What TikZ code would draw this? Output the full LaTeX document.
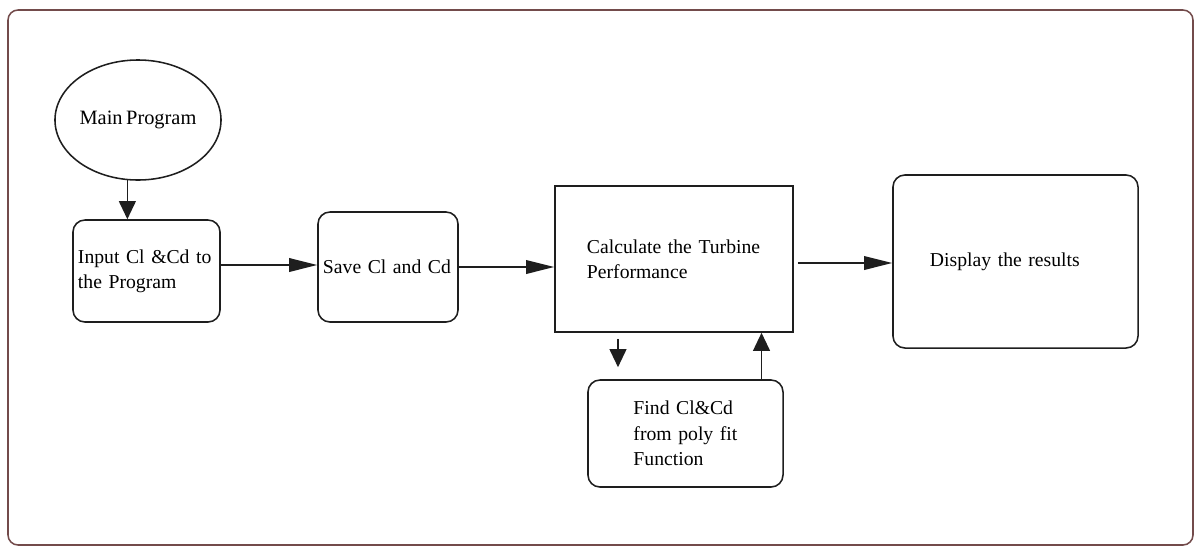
\documentclass[tikz,border=0pt]{standalone}
\usepackage{fontspec}
\setmainfont{Liberation Serif}[WordSpace=0.7]
\usetikzlibrary{arrows.meta,shapes.geometric}
\definecolor{marco}{RGB}{115,75,75}
\definecolor{trazo}{RGB}{30,30,30}

\begin{document}
\begin{tikzpicture}[x=0.025cm, y=-0.025cm, >={Triangle[length=0.7cm,width=0.34cm]}, line width=1.1pt,
    caja/.style={draw=trazo, rounded corners=0.3cm, align=left, inner sep=0pt, font=\fontsize{14}{18}\selectfont},
    flecha/.style={->, draw=trazo, fill=trazo},
    bajada/.style={-{Triangle[length=0.45cm,width=0.42cm]}, draw=trazo, fill=trazo}]
    \useasboundingbox (0,0) rectangle (1198,548);
    % marco exterior
    \draw[marco, rounded corners=0.25cm] (8,10) rectangle (1193,545);
    % programa principal
    \node[ellipse, draw=trazo, inner sep=0pt, minimum width=4.15cm, minimum height=3.0cm,
          font=\fontsize{14.5}{18}\selectfont] (main) at (138,120) {Main Program};
    % cajas del flujo
    \node[caja, minimum width=3.675cm, minimum height=2.55cm, text width=3.425cm] (input) at (146.5,271)
        {\mbox{Input Cl \&Cd to}\\the Program};
    \node[caja, minimum width=3.5cm, minimum height=2.75cm, text width=3.25cm] (save) at (388,267)
        {\mbox{Save Cl and Cd}};
    \node[caja, rounded corners=0pt, minimum width=5.95cm, minimum height=3.65cm, text width=4.35cm] (calc) at (674,259)
        {\mbox{Calculate the Turbine}\\Performance};
    \node[caja, minimum width=6.125cm, minimum height=4.325cm, text width=4.275cm] (display) at (1015.5,261.5)
        {Display the results};
    \node[caja, minimum width=4.875cm, minimum height=2.675cm, text width=2.6cm] (find) at (685.5,433.5)
        {Find Cl\&Cd\\\mbox{from poly fit}\\Function};
    % flechas
    \draw[bajada] (main.260) -- (main.260 |- input.north);
    \draw[flecha] ([yshift=0.15cm]input.east) -- ([yshift=0.15cm]input.east -| save.west);
    \draw[flecha] (save.east) -- (save.east -| calc.west);
    \draw[flecha] ([xshift=0.1cm,yshift=-0.1cm]calc.east) -- ([yshift=-0.1cm]calc.east -| display.west);
    \draw[bajada] ([xshift=-1.4cm,yshift=-0.15cm]calc.south) -- ([xshift=-1.4cm,yshift=0.3cm]calc.south |- find.north);
    \draw[bajada] ([xshift=1.9cm]find.north) -- ([xshift=1.9cm]find.north |- calc.south);
\end{tikzpicture}
\end{document}
